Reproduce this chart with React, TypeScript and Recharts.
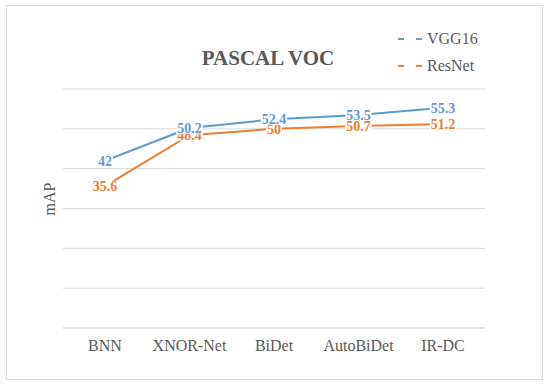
import React from 'react';
import {
  LineChart,
  Line,
  XAxis,
  YAxis,
  CartesianGrid,
  LabelList,
} from 'recharts';

const categories = ['BNN', 'XNOR-Net', 'BiDet', 'AutoBiDet', 'IR-DC'];
const vgg16 = [42, 50.2, 52.4, 53.5, 55.3];
const resnet = [35.6, 48.4, 50, 50.7, 51.2];
const yTicks = [0, 10, 20, 30, 40, 50, 60];

const BLUE = '#5B9BD5';
const ORANGE = '#ED7D31';
const GRAY = '#595959';
const GRID = '#D9D9D9';
const FONT = '"Liberation Serif", "Times New Roman", serif';

const data = categories.map((name, i) => ({
  name,
  vgg16: vgg16[i],
  resnet: resnet[i],
}));

// data label centred on the point, with a white box that hides the line beneath
const makeLabel = (color: string) => (props: any) => {
  const { x, y, value } = props;
  const s = String(value);
  const w = s.length * 7 - (s.includes('.') ? 3.5 : 0);
  return (
    <g>
      <rect x={x - w / 2 - 1} y={y - 5.5} width={w + 2} height={11} fill="#fff" />
      <text
        x={x}
        y={y}
        dy="0.35em"
        textAnchor="middle"
        fill={color}
        fontSize={14}
        fontWeight="bold"
        fontFamily={FONT}
      >
        {s}
      </text>
    </g>
  );
};

const LegendItem: React.FC<{ color: string; label: string; top: number }> = ({
  color,
  label,
  top,
}) => (
  <div style={{ position: 'absolute', left: 396, top, height: 20, display: 'flex', alignItems: 'center' }}>
    <svg width={30} height={20}>
      <line x1={2} y1={10} x2={27} y2={10} stroke={color} strokeWidth={2} strokeDasharray="6 12" />
    </svg>
    <span style={{ fontFamily: FONT, fontSize: 16, color: GRAY, marginLeft: 1 }}>{label}</span>
  </div>
);

export default function App() {
  return (
    <div style={{ position: 'absolute', left: 0, top: 0, width: 550, height: 386, background: '#fff' }}>
      <div
        style={{
          position: 'absolute',
          left: 6,
          top: 5,
          width: 537,
          height: 375,
          border: `1px solid ${GRID}`,
          boxSizing: 'border-box',
        }}
      />
      <LineChart
        width={550}
        height={386}
        data={data}
        margin={{ top: 89, right: 65, bottom: 28, left: 63 }}
      >
        <CartesianGrid vertical={false} stroke={GRID} />
        <XAxis
          dataKey="name"
          padding={{ left: 42, right: 42 }}
          axisLine={{ stroke: GRID }}
          tickLine={false}
          tickMargin={6}
          tick={{ fill: GRAY, fontSize: 16, fontFamily: FONT }}
        />
        <YAxis
          domain={[0, 60]}
          ticks={yTicks}
          width={0}
          tick={() => <g />}
          axisLine={false}
          tickLine={false}
        />
        <Line type="linear" dataKey="vgg16" stroke={BLUE} strokeWidth={2} dot={false} isAnimationActive={false} />
        <Line type="linear" dataKey="resnet" stroke={ORANGE} strokeWidth={2} dot={false} isAnimationActive={false} />
        <Line dataKey="resnet" stroke="none" dot={false} legendType="none" isAnimationActive={false}>
          <LabelList dataKey="resnet" content={makeLabel(ORANGE)} />
        </Line>
        <Line dataKey="vgg16" stroke="none" dot={false} legendType="none" isAnimationActive={false}>
          <LabelList dataKey="vgg16" content={makeLabel(BLUE)} />
        </Line>
      </LineChart>
      <div
        style={{
          position: 'absolute',
          left: 268,
          top: 58,
          transform: 'translate(-50%, -50%)',
          fontFamily: FONT,
          fontSize: 21,
          fontWeight: 'bold',
          color: GRAY,
          whiteSpace: 'nowrap',
        }}
      >
        PASCAL VOC
      </div>
      <div
        style={{
          position: 'absolute',
          left: 50,
          top: 199,
          transform: 'translate(-50%, -50%) rotate(-90deg)',
          fontFamily: FONT,
          fontSize: 16,
          color: GRAY,
          whiteSpace: 'nowrap',
        }}
      >
        mAP
      </div>
      <LegendItem color={BLUE} label="VGG16" top={29} />
      <LegendItem color={ORANGE} label="ResNet" top={56} />
    </div>
  );
}
